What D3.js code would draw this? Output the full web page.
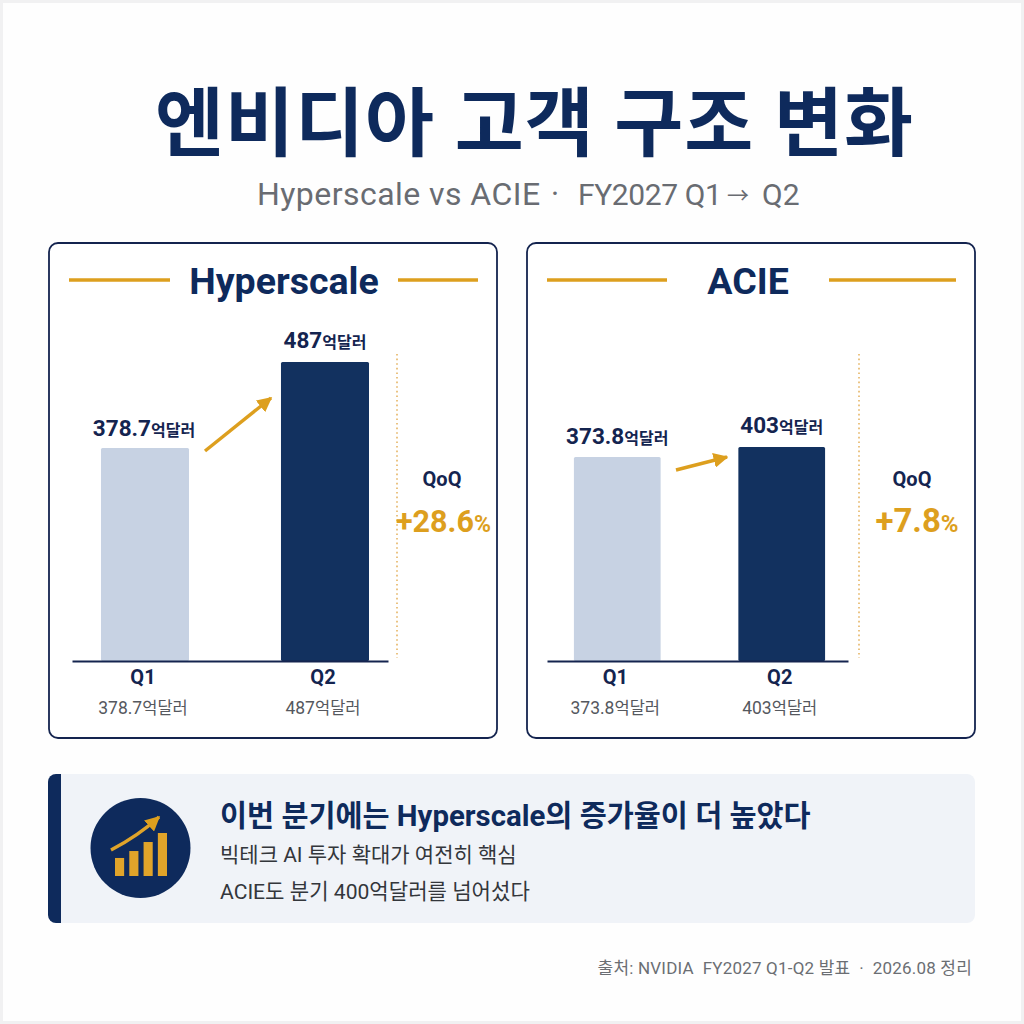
<!DOCTYPE html>
<html lang="ko"><head><meta charset="utf-8">
<script src="https://cdnjs.cloudflare.com/ajax/libs/d3/7.8.5/d3.min.js"></script>
<style>html,body{margin:0;padding:0;background:#fefefe}svg{display:block}
text{font-family:Roboto,"Noto Sans CJK KR",sans-serif;white-space:pre}</style></head><body>
<script>
const title = "엔비디아 고객 구조 변화";
const subtitleParts = ["Hyperscale vs ACIE", "·", "FY2027 Q1", "→", "Q2"];
const quarters = ["Q1", "Q2"];
const hyperscaleValues = [378.7, 487];
const acieValues = [373.8, 403];
const hyperscaleLabels = ["378.7", "487"];
const acieLabels = ["373.8", "403"];
const qoqLabels = ["+28.6", "+7.8"];
const iconValues = [2.6, 3.6, 4.9, 6.2];
const calloutTitle = "이번 분기에는 Hyperscale의 증가율이 더 높았다";
const calloutLines = ["빅테크 AI 투자 확대가 여전히 핵심", "ACIE도 분기 400억달러를 넘어섰다"];
const source = "출처: NVIDIA  FY2027 Q1-Q2 발표  ·  2026.08 정리";

const ink="#14244f", gold="#dd9f1e", pale="#c7d2e3";
const svg=d3.select("body").append("svg").attr("width",1024).attr("height",1024);
const defs=svg.append("defs");
defs.append("marker").attr("id","ah").attr("viewBox","0 0 10 10").attr("refX",9).attr("refY",5)
  .attr("markerWidth",4.4).attr("markerHeight",4.4).attr("orient","auto")
  .append("path").attr("d","M0,0L10,5L0,10Z").attr("fill",gold);
svg.append("rect").attr("x",1.5).attr("y",1.5).attr("width",1021).attr("height",1021).attr("fill","none").attr("stroke","#f1f1f2").attr("stroke-width",3);
function txt(g,x,y,s,size,weight,fill,anchor){return g.append("text").attr("x",x).attr("y",y).attr("font-size",size)
  .attr("font-weight",weight).attr("fill",fill).attr("text-anchor",anchor||"middle").text(s);}
function valueLabel(g,x,y,num,bigSize,smallSize,weight,fill){
  const t=g.append("text").attr("x",x).attr("y",y).attr("text-anchor","middle").attr("fill",fill).attr("font-weight",weight);
  t.append("tspan").attr("font-size",bigSize).text(num);
  t.append("tspan").attr("font-size",smallSize).text("억달러");
}
txt(svg,534.5,150,title,75,700,"#0e2a5c").attr("letter-spacing",1);
const sub=svg.append("text").attr("y",205).attr("fill","#696c72").attr("font-size",31);
sub.append("tspan").attr("x",257).attr("font-size",32).attr("letter-spacing",.45).text(subtitleParts[0]);
sub.append("tspan").attr("x",551).text(subtitleParts[1]);
sub.append("tspan").attr("x",578).attr("font-size",30).attr("letter-spacing",-.4).text(subtitleParts[2]);
sub.append("tspan").attr("x",727).attr("font-size",22).attr("dy",-2).text(subtitleParts[3]);
sub.append("tspan").attr("x",762).attr("font-size",30).attr("dy",2).text(subtitleParts[4]);

const panels=[
 {name:"Hyperscale",values:hyperscaleValues,labels:hyperscaleLabels,qoq:qoqLabels[0],box:[49,243,448,495],top:362,
  range:[72,388],inner:.511,outer:.1333,align:.604,domain:[110.4,487],
  rules:[[69,170],[398,478]],titleX:284,dot:397,qx:442,pctX:443.5,pct:[30.5,23],arrow:[[205,3],[271,36]],labelDx:[-1,0],labelDy:[12,14]},
 {name:"ACIE",values:acieValues,labels:acieLabels,qoq:qoqLabels[1],box:[527,243,448,495],top:447,
  range:[547,848],inner:.4727,outer:.1515,align:.54,domain:[-222.7,403],
  rules:[[547,667],[829,956]],titleX:748,dot:859,qx:912,pctX:917,pct:[33,24],arrow:[[676,13],[727,10]],labelDx:[0,0],labelDy:[13,14]}];
const base=661;
panels.forEach(p=>{
  const g=svg.append("g");
  g.append("rect").attr("x",p.box[0]).attr("y",p.box[1]).attr("width",p.box[2]).attr("height",p.box[3]).attr("rx",9)
    .attr("fill","#fff").attr("stroke",ink).attr("stroke-width",1.8);
  p.rules.forEach(r=>g.append("line").attr("x1",r[0]).attr("x2",r[1]).attr("y1",280).attr("y2",280).attr("stroke",gold).attr("stroke-width",3.4));
  txt(g,p.titleX,294,p.name,37.5,700,"#0e2a5c");
  const x=d3.scaleBand().domain(quarters).range(p.range).paddingInner(p.inner).paddingOuter(p.outer).align(p.align);
  const y=d3.scaleLinear().domain(p.domain).range([base,p.top]);
  const data=quarters.map((q,i)=>({q,v:p.values[i],l:p.labels[i]}));
  g.selectAll("rect.bar").data(data).join("rect").attr("class","bar")
    .attr("x",d=>x(d.q)).attr("width",x.bandwidth()).attr("y",d=>y(d.v)).attr("height",d=>base-y(d.v)).attr("rx",1.5)
    .attr("fill",(d,i)=>i?"#12315f":pale);
  g.append("line").attr("x1",p.dot).attr("x2",p.dot).attr("y1",354).attr("y2",658).attr("stroke","#e5b564").attr("stroke-width",1.6).attr("stroke-dasharray","1.6 3");
  const ax=g.append("g").attr("transform",`translate(0,${base})`).call(d3.axisBottom(x).tickSize(0).tickPadding(9));
  ax.select(".domain").attr("stroke",ink).attr("stroke-width",2);
  ax.selectAll("text").attr("font-size",20).attr("font-weight",700).attr("fill",ink).attr("dx",-2).style("font-family",'Roboto,"Noto Sans CJK KR",sans-serif');
  data.forEach((d,i)=>{
    const c=x(d.q)+x.bandwidth()/2;
    valueLabel(g,c+p.labelDx[i],y(d.v)-p.labelDy[i],d.l,22.5,16,700,ink);
    valueLabel(g,c-2,714,d.l,17.5,16.5,400,"#55585e");
  });
  g.append("line").attr("x1",p.arrow[0][0]).attr("y1",y(p.values[0])+p.arrow[0][1]).attr("x2",p.arrow[1][0]).attr("y2",y(p.values[1])+p.arrow[1][1])
    .attr("stroke",gold).attr("stroke-width",3.4).attr("marker-end","url(#ah)");
  txt(g,p.qx,486,"QoQ",20,700,ink);
  const t=g.append("text").attr("x",p.pctX).attr("y",532).attr("text-anchor","middle").attr("fill",gold).attr("font-weight",700);
  t.append("tspan").attr("font-size",p.pct[0]).text(p.qoq);
  t.append("tspan").attr("font-size",p.pct[1]).text("%");
});

// callout
const c=svg.append("g");
c.append("rect").attr("x",48).attr("y",774).attr("width",927).attr("height",149).attr("rx",8).attr("fill","#f0f3f8");
c.append("path").attr("d","M61,774H56a8,8 0 0 0 -8,8V915a8,8 0 0 0 8,8H61Z").attr("fill","#0e2a5c");
c.append("circle").attr("cx",140.5).attr("cy",848).attr("r",50).attr("fill","#0e2a5c");
const ix=d3.scaleBand().domain(d3.range(iconValues.length)).range([115,167]).paddingInner(.36);
const iy=d3.scaleLinear().domain([0,6.2]).range([876,833]);
c.selectAll("rect.ib").data(iconValues).join("rect").attr("class","ib").attr("x",(d,i)=>ix(i)).attr("width",ix.bandwidth())
  .attr("y",d=>iy(d)).attr("height",d=>876-iy(d)).attr("fill","#e0a42a");
c.append("path").attr("d","M111,850Q138,836 159,817").attr("fill","none").attr("stroke","#e0a42a").attr("stroke-width",3.4).attr("marker-end","url(#ah)");
txt(c,220,826,calloutTitle,29.4,700,"#0e2a5c","start");
txt(c,220,862,calloutLines[0],21,400,"#33363b","start");
txt(c,220,899,calloutLines[1],21.1,400,"#33363b","start");
txt(svg,972,974,source,17,400,"#6b6e73","end").attr("letter-spacing",.2);
</script></body></html>
